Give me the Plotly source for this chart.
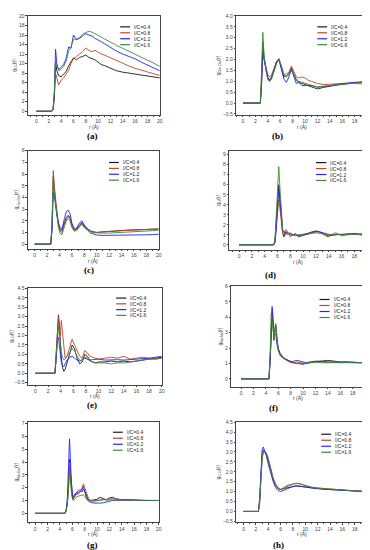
import plotly.graph_objects as go

# ---------------- data ----------------
series_names = ["I/C=0.4", "I/C=0.8", "I/C=1.2", "I/C=1.6"]
panel_labels = ["(a)", "(b)", "(c)", "(d)", "(e)", "(f)", "(g)", "(h)"]
y_titles = ["g<sub>I-C</sub>(r)", "g<sub>Ow-Ow</sub>(r)", "g<sub>Hw-Ow</sub>(r)",
            "g<sub>I-I</sub>(r)", "g<sub>I-O</sub>(r)", "g<sub>Na-Na</sub>(r)",
            "g<sub>Na-Ow</sub>(r)", "g<sub>C-O</sub>(r)"]
x_title = "r (Å)"

r_a = [0, 2.5, 2.7, 2.9, 3.1, 3.3, 3.6, 4.0, 4.4, 4.8, 5.2, 5.6, 6.0, 6.5, 7.0, 7.5, 8.0, 8.5, 9.0, 9.5,
       10, 10.5, 11, 11.5, 12, 12.5, 13, 14, 15, 16, 17, 18, 19, 20]
a_04 = [0, 0, 0.3, 3, 10.5, 8.5, 7.5, 7.2, 7.8, 8.3, 9.5, 10.5, 11.2, 10.8, 11.3, 11.5, 11.8, 11.3, 11.0, 10.8,
        10.3, 9.8, 9.6, 9.3, 9.0, 8.8, 8.5, 8.2, 8.0, 7.8, 7.6, 7.5, 7.3, 7.0]
a_08 = [0, 0, 0.5, 3, 8, 7, 5.5, 6.5, 7.0, 7.8, 8.5, 10, 11, 11.5, 12, 12.5, 13.3, 12.8, 12.5, 12.8,
        12.4, 12.0, 11.8, 11.5, 11.3, 11.0, 10.6, 10.0, 9.5, 9.0, 8.6, 8.2, 7.8, 7.5]
a_12 = [0, 0, 0.4, 4, 13, 10, 8.7, 9.2, 9.8, 11, 13.5, 13.2, 16, 15, 15.3, 15.8, 16.3, 16, 15.8, 15.3,
        15, 14.6, 14.2, 13.8, 13.4, 13.0, 12.6, 12.0, 11.5, 11.0, 10.3, 9.7, 9.1, 8.5]
a_16 = [0, 0, 0.4, 4, 10.5, 9.5, 8.5, 8.8, 9.4, 10.5, 12.5, 13.5, 15, 15.2, 15.5, 16.2, 16.5, 16.8, 16.6, 16.3,
        16, 15.6, 15.2, 14.8, 14.5, 14.2, 13.8, 13.2, 12.6, 12.0, 11.3, 10.7, 10.1, 9.4]

r_b = [0, 2.8, 3.0, 3.2, 3.4, 3.7, 4.0, 4.3, 4.6, 5.0, 5.4, 5.8, 6.2, 6.6, 7.0, 7.4, 7.8, 8.2, 8.6, 9.0,
       9.5, 10, 10.5, 11, 11.5, 12, 13, 14, 15, 16, 17, 18, 19, 20]
b_04 = [0, 0, 1.0, 2.8, 2.1, 1.6, 1.2, 1.05, 1.2, 1.5, 1.85, 2.0, 1.6, 1.2, 1.25, 1.35, 1.6, 1.3, 1.05, 0.95,
        0.9, 0.85, 0.8, 0.75, 0.72, 0.65, 0.72, 0.78, 0.82, 0.86, 0.9, 0.93, 0.96, 1.0]
b_08 = [0, 0, 1.0, 2.6, 2.0, 1.7, 1.3, 1.2, 1.3, 1.6, 1.9, 2.05, 1.7, 1.3, 1.35, 1.4, 1.7, 1.45, 1.2, 1.15,
        1.2, 1.15, 1.05, 1.0, 0.95, 0.9, 0.85, 0.85, 0.88, 0.9, 0.92, 0.9, 0.88, 0.9]
b_12 = [0, 0, 0.8, 2.4, 2.0, 1.5, 1.1, 1.0, 1.15, 1.5, 1.9, 2.0, 1.5, 1.1, 0.95, 1.2, 1.55, 1.2, 0.9, 0.95,
        0.8, 0.8, 0.82, 0.8, 0.78, 0.72, 0.75, 0.8, 0.85, 0.9, 0.92, 0.95, 0.97, 0.98]
b_16 = [0, 0, 1.5, 3.25, 2.2, 1.5, 1.1, 1.0, 1.1, 1.45, 1.8, 2.0, 1.7, 1.3, 1.2, 1.3, 1.5, 1.3, 1.1, 1.0,
        0.95, 0.9, 0.85, 0.8, 0.78, 0.75, 0.78, 0.82, 0.85, 0.88, 0.9, 0.93, 0.95, 0.97]

r_c = [0, 2.6, 2.8, 3.0, 3.2, 3.5, 3.8, 4.1, 4.4, 4.8, 5.1, 5.4, 5.7, 6.0, 6.4, 6.8, 7.2, 7.6, 8.0, 8.5,
       9.0, 9.5, 10, 11, 12, 13, 14, 15, 16, 17, 18, 19, 20]
c_04 = [0, 0, 1.5, 5.8, 4.5, 2.8, 1.8, 1.2, 1.2, 1.9, 2.3, 2.4, 2.2, 1.6, 1.2, 1.3, 1.6, 1.8, 1.5, 1.3,
        1.15, 1.05, 1.0, 1.05, 1.1, 1.15, 1.18, 1.2, 1.22, 1.24, 1.26, 1.28, 1.3]
c_08 = [0, 0, 1.8, 6.3, 4.8, 3.0, 1.8, 1.1, 1.0, 1.7, 2.2, 2.5, 2.3, 1.6, 1.2, 1.3, 1.6, 1.9, 1.6, 1.3,
        1.1, 1.02, 1.0, 1.05, 1.1, 1.12, 1.15, 1.18, 1.2, 1.22, 1.25, 1.27, 1.3]
c_12 = [0, 0, 1.2, 4.4, 4.0, 2.8, 1.9, 1.4, 1.3, 2.2, 2.8, 2.9, 2.6, 1.8, 1.3, 1.4, 1.8, 2.0, 1.6, 1.2,
        0.95, 0.85, 0.78, 0.75, 0.75, 0.76, 0.76, 0.77, 0.78, 0.8, 0.8, 0.82, 0.85]
c_16 = [0, 0, 1.5, 5.6, 4.3, 2.6, 1.5, 0.9, 0.8, 1.5, 2.0, 2.2, 2.0, 1.4, 1.1, 1.2, 1.5, 1.7, 1.4, 1.2,
        1.05, 0.98, 0.95, 0.95, 0.95, 0.97, 1.0, 1.02, 1.05, 1.08, 1.1, 1.15, 1.2]

r_d = [0, 5.4, 5.6, 5.8, 6.0, 6.2, 6.4, 6.6, 6.8, 7.0, 7.3, 7.6, 8.0, 8.4, 8.8, 9.2, 9.6, 10, 10.5, 11,
       11.5, 12, 12.5, 13, 13.5, 14, 15, 15.5, 16, 17, 18, 19, 20]
d_04 = [0, 0, 0.3, 2.0, 4.5, 6.0, 4.5, 2.5, 1.2, 0.8, 1.3, 1.2, 1.0, 0.95, 1.1, 0.9, 0.85, 0.95, 1.0, 1.1,
        1.2, 1.3, 1.3, 1.2, 1.0, 0.9, 1.0, 1.05, 1.0, 1.05, 1.1, 1.0, 1.05]
d_08 = [0, 0, 0.3, 1.8, 3.5, 4.5, 3.5, 2.0, 1.2, 1.0, 1.5, 1.3, 0.8, 1.0, 1.1, 0.8, 0.9, 1.0, 1.1, 1.2,
        1.3, 1.4, 1.3, 1.1, 0.9, 0.8, 1.2, 1.1, 0.9, 1.0, 1.1, 1.0, 0.95]
d_12 = [0, 0, 0.2, 1.5, 3.8, 5.5, 4.2, 2.5, 1.5, 1.3, 1.2, 1.1, 1.1, 1.0, 0.95, 0.9, 0.95, 1.0, 1.1, 1.2,
        1.3, 1.35, 1.3, 1.2, 1.1, 1.05, 1.0, 1.0, 1.05, 1.1, 1.1, 1.05, 1.1]
d_16 = [0, 0, 0.4, 3.0, 6.5, 7.8, 5.5, 3.0, 1.6, 1.2, 1.0, 1.1, 1.2, 1.0, 0.9, 1.0, 1.0, 1.05, 1.1, 1.15,
        1.2, 1.2, 1.15, 1.1, 1.05, 1.0, 1.05, 1.0, 1.0, 1.05, 1.05, 1.0, 1.0]

r_e = [0, 3.1, 3.3, 3.5, 3.65, 3.8, 3.95, 4.1, 4.3, 4.5, 4.7, 5.0, 5.4, 5.8, 6.2, 6.6, 7.0, 7.4, 7.8, 8.2,
       8.6, 9.0, 9.5, 10, 11, 12, 13, 14, 15, 16, 17, 18, 19, 20]
e_04 = [0, 0, 1.0, 2.6, 3.1, 2.5, 1.5, 0.8, 0.3, 0.1, 0.2, 0.5, 1.0, 1.5, 1.3, 0.8, 0.5, 0.6, 1.0, 0.9,
        0.7, 0.6, 0.55, 0.6, 0.6, 0.65, 0.6, 0.65, 0.6, 0.65, 0.7, 0.75, 0.8, 0.85]
e_08 = [0, 0, 1.2, 2.7, 3.0, 2.3, 2.0, 2.8, 2.0, 1.2, 0.8, 0.9, 1.3, 1.8, 1.5, 1.2, 0.9, 0.8, 1.2, 1.1,
        0.9, 0.85, 0.8, 0.75, 0.8, 0.85, 0.8, 0.9, 0.75, 0.8, 0.85, 0.8, 0.75, 0.8]
e_12 = [0, 0, 0.8, 1.8, 1.9, 1.5, 1.0, 0.6, 0.4, 0.35, 0.5, 0.7, 0.85, 0.9, 0.8, 0.7, 0.65, 0.75, 0.8, 0.75,
        0.7, 0.72, 0.75, 0.75, 0.7, 0.72, 0.72, 0.7, 0.72, 0.75, 0.78, 0.8, 0.85, 0.9]
e_16 = [0, 0, 1.0, 2.3, 2.5, 2.0, 1.5, 1.1, 0.8, 0.7, 0.75, 0.9, 1.1, 1.3, 1.2, 0.9, 0.7, 0.65, 0.85, 0.8,
        0.65, 0.6, 0.55, 0.55, 0.55, 0.5, 0.55, 0.55, 0.6, 0.65, 0.7, 0.75, 0.75, 0.8]

r_f = [0, 4.5, 4.7, 4.85, 5.0, 5.15, 5.3, 5.45, 5.6, 5.8, 6.0, 6.3, 6.6, 7.0, 7.5, 8.0, 8.5, 9.0, 9.5, 10,
       10.5, 11, 12, 13, 14, 15, 16, 17, 18, 19, 20]
f_04 = [0, 0, 1.5, 3.8, 4.3, 3.5, 2.5, 3.2, 3.5, 2.6, 2.0, 1.6, 1.4, 1.3, 1.2, 1.1, 1.05, 1.0, 0.95, 0.95,
        1.0, 1.05, 1.1, 1.15, 1.2, 1.15, 1.1, 1.1, 1.05, 1.05, 1.05]
f_08 = [0, 0, 1.3, 3.5, 4.5, 3.7, 2.6, 3.0, 3.2, 2.4, 1.9, 1.6, 1.45, 1.35, 1.2, 1.1, 1.05, 1.1, 1.05, 1.0,
        1.0, 1.05, 1.1, 1.1, 1.05, 1.1, 1.1, 1.1, 1.1, 1.05, 1.05]
f_12 = [0, 0, 1.2, 3.6, 4.7, 4.0, 2.8, 2.9, 2.9, 2.2, 1.9, 1.65, 1.5, 1.3, 1.2, 1.1, 1.15, 1.2, 1.15, 1.1,
        1.05, 1.1, 1.15, 1.15, 1.1, 1.1, 1.05, 1.08, 1.08, 1.05, 1.05]
f_16 = [0, 0, 1.8, 4.2, 3.8, 2.8, 2.6, 3.3, 3.6, 2.5, 1.8, 1.5, 1.4, 1.3, 1.15, 1.05, 1.0, 1.0, 1.0, 1.0,
        1.0, 1.05, 1.08, 1.05, 1.05, 1.05, 1.05, 1.05, 1.05, 1.05, 1.05]

r_g = [0, 4.8, 5.0, 5.2, 5.4, 5.55, 5.7, 5.9, 6.1, 6.4, 6.7, 7.0, 7.3, 7.6, 7.8, 8.0, 8.3, 8.6, 9.0, 9.5,
       10, 10.5, 11, 11.5, 12, 12.5, 13, 14, 15, 16, 17, 18, 19, 20]
g_04 = [0, 0, 0.2, 0.8, 2.5, 4.2, 3.0, 1.6, 1.1, 1.4, 1.6, 1.6, 1.7, 1.7, 1.9, 1.7, 1.3, 1.05, 1.0, 1.05,
        1.1, 1.25, 1.15, 1.05, 1.2, 1.25, 1.15, 1.05, 1.05, 1.0, 1.0, 1.0, 1.0, 1.0]
g_08 = [0, 0, 0.2, 0.7, 2.2, 4.0, 3.2, 1.8, 1.2, 1.3, 1.5, 1.5, 1.7, 2.0, 2.3, 2.0, 1.5, 1.2, 1.0, 0.95,
        1.0, 1.05, 1.1, 1.05, 1.1, 1.15, 1.1, 1.05, 1.0, 1.0, 1.0, 1.0, 1.0, 1.0]
g_12 = [0, 0, 0.3, 1.2, 3.8, 5.8, 4.2, 2.0, 1.2, 1.5, 1.6, 1.8, 1.8, 1.9, 2.1, 1.8, 1.2, 0.95, 0.85, 0.8,
        0.78, 0.8, 0.82, 0.9, 0.95, 1.0, 1.0, 1.05, 1.05, 1.05, 1.0, 1.0, 1.0, 1.0]
g_16 = [0, 0, 0.2, 0.8, 2.0, 3.3, 2.6, 1.4, 1.0, 1.1, 1.3, 1.35, 1.4, 1.4, 1.45, 1.3, 1.1, 1.0, 0.95, 0.95,
        1.0, 1.0, 1.05, 1.05, 1.05, 1.05, 1.05, 1.05, 1.05, 1.0, 1.0, 1.0, 1.0, 1.0]

r_h = [0, 2.4, 2.6, 2.8, 3.0, 3.2, 3.4, 3.7, 4.0, 4.4, 4.8, 5.2, 5.6, 6.0, 6.5, 7.0, 7.5, 8.0, 8.5, 9.0,
       9.5, 10, 11, 12, 13, 14, 15, 16, 17, 18, 19, 20]
h_04 = [0, 0, 0.5, 1.8, 2.8, 3.1, 3.05, 2.9, 2.6, 2.1, 1.6, 1.3, 1.15, 1.1, 1.15, 1.2, 1.22, 1.25, 1.28, 1.27,
        1.25, 1.22, 1.18, 1.15, 1.12, 1.1, 1.1, 1.08, 1.05, 1.03, 1.02, 1.0]
h_08 = [0, 0, 0.4, 1.7, 2.7, 3.05, 3.0, 2.85, 2.5, 2.0, 1.6, 1.3, 1.15, 1.1, 1.2, 1.3, 1.35, 1.4, 1.42, 1.4,
        1.35, 1.3, 1.22, 1.18, 1.15, 1.12, 1.1, 1.08, 1.06, 1.04, 1.02, 1.0]
h_12 = [0, 0, 0.6, 2.2, 3.1, 3.25, 3.1, 2.8, 2.4, 1.9, 1.5, 1.2, 1.05, 1.0, 1.05, 1.12, 1.2, 1.25, 1.3, 1.28,
        1.25, 1.22, 1.18, 1.15, 1.12, 1.1, 1.08, 1.06, 1.05, 1.03, 1.02, 1.0]
h_16 = [0, 0, 0.4, 1.6, 2.6, 3.0, 3.05, 2.95, 2.7, 2.2, 1.7, 1.4, 1.2, 1.12, 1.15, 1.25, 1.32, 1.38, 1.42, 1.4,
        1.35, 1.3, 1.22, 1.18, 1.15, 1.12, 1.1, 1.08, 1.06, 1.04, 1.02, 1.0]

x_ticks = [0, 2, 4, 6, 8, 10, 12, 14, 16, 18, 20]

# ---------------- layout / style ----------------
W, H = 370, 550
colors = ["#1a1a1a", "#c0452a", "#2424ff", "#3f8c32"]

panels = [
    # r, series, box px (x0, x1, y0, y1), x range, y range, y dtick, y format, legend x frac, legend y frac
    (r_a, [a_04, a_08, a_12, a_16], (20, 153, 5, 105), [-1.4, 20], [-0.8, 20], 2, "d", 0.70, 0.89),
    (r_b, [b_04, b_08, b_12, b_16], (230, 362, 5, 105), [-1.1, 20], [-0.55, 4.0], 0.5, ".1f", 0.62, 0.89),
    (r_c, [c_04, c_08, c_12, c_16], (20, 152, 141, 240), [-1.1, 20], [-0.4, 8], 1, "d", 0.62, 0.88),
    (r_d, [d_04, d_08, d_12, d_16], (223, 362, 141, 241), [-1.55, 20], [-0.5, 9.4], 1, "d", 0.63, 0.88),
    (r_e, [e_04, e_08, e_12, e_16], (20, 155, 280, 377), [-1.2, 20], [-0.6, 4.5], 0.5, ".1f", 0.66, 0.90),
    (r_f, [f_04, f_08, f_12, f_16], (225, 360, 278, 379), [-1.6, 20], [-0.5, 6.0], 1, "d", 0.66, 0.87),
    (r_g, [g_04, g_08, g_12, g_16], (20, 152, 415, 516), [-1.2, 20], [-0.7, 7.1], 1, "d", 0.65, 0.90),
    (r_h, [h_04, h_08, h_12, h_16], (230, 362, 415, 516), [-1.2, 20], [-0.55, 4.5], 0.5, ".1f", 0.65, 0.88),
]
label_pos = [(85, 126), (272, 126), (82, 261), (265, 266), (85, 398), (268, 401), (85, 539), (273, 539)]

fig = go.Figure()
layout = dict(width=W, height=H, margin=dict(l=0, r=0, t=0, b=0),
              paper_bgcolor="white", plot_bgcolor="white", showlegend=False,
              font=dict(family="Liberation Sans", size=5, color="#333333"))
annotations = []
shapes = []

for i, (r, ser, box, xr, yr, ydt, yfmt, lx, ly) in enumerate(panels):
    n = i + 1
    xa = "x" if n == 1 else f"x{n}"
    ya = "y" if n == 1 else f"y{n}"
    xk = "xaxis" if n == 1 else f"xaxis{n}"
    yk = "yaxis" if n == 1 else f"yaxis{n}"
    x0, x1, y0, y1 = box
    for s, vals in enumerate(ser):
        fig.add_trace(go.Scatter(x=r, y=vals, mode="lines", name=series_names[s],
                                 line=dict(color=colors[s], width=0.9),
                                 xaxis=xa, yaxis=ya))
    axis_common = dict(showline=True, linecolor="#444444", linewidth=0.7, mirror=True,
                       ticks="outside", ticklen=1.5, tickwidth=0.6, tickcolor="#444444",
                       showgrid=False, zeroline=False, tickfont=dict(size=5, color="#444444"),
                       ticklabeloverflow="allow")
    layout[xk] = dict(axis_common, domain=[x0 / W, x1 / W], range=xr, anchor=ya,
                      tickvals=x_ticks,
                      minor=dict(ticklen=1, dtick=1, tick0=0, tickcolor="#444444", ticks="outside"))
    layout[yk] = dict(axis_common, domain=[1 - y1 / H, 1 - y0 / H], range=yr, anchor=xa,
                      dtick=ydt, tick0=0, tickformat=yfmt,
                      title=dict(text=y_titles[i], font=dict(size=5), standoff=2))
    # x-axis title
    annotations.append(dict(xref=f"{xa} domain", yref="paper", x=0.5, y=1 - (y1 + 12) / H,
                            text=x_title, showarrow=False, xanchor="center", yanchor="middle",
                            font=dict(size=5, color="#333333")))
    # manual legend
    for s in range(4):
        yy = ly - s * 0.06
        shapes.append(dict(type="line", xref=f"{xa} domain", yref=f"{ya} domain",
                           x0=lx, x1=lx + 0.075, y0=yy, y1=yy,
                           line=dict(color=colors[s], width=1.2)))
        annotations.append(dict(xref=f"{xa} domain", yref=f"{ya} domain", x=lx + 0.09, y=yy,
                                text=series_names[s], showarrow=False, xanchor="left", yanchor="middle",
                                font=dict(size=5, color="#222222")))
    px, py = label_pos[i]
    annotations.append(dict(xref="paper", yref="paper", x=px / W, y=1 - py / H, text=panel_labels[i],
                            showarrow=False, xanchor="center", yanchor="middle",
                            font=dict(family="Liberation Serif", size=9, color="#000000", weight="bold")))

layout["annotations"] = annotations
layout["shapes"] = shapes
fig.update_layout(**layout)
fig.write_html("out.html")
